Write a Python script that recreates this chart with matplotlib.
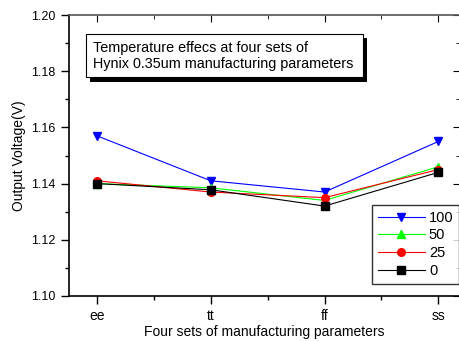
import numpy as np
import matplotlib.pyplot as plt
from matplotlib.patches import Rectangle

plt.rcParams['font.family'] = ['Liberation Sans', 'DejaVu Sans']

# process corners and output voltage per temperature
corners = ['ee', 'tt', 'ff', 'ss']
temps = ['100', '50', '25', '0']
v_100 = [1.157, 1.141, 1.137, 1.155]
v_50 = [1.140, 1.1385, 1.134, 1.146]
v_25 = [1.141, 1.137, 1.135, 1.145]
v_0 = [1.140, 1.1378, 1.132, 1.144]

series = [v_100, v_50, v_25, v_0]
colors = ['#0000ff', '#00ff00', '#ff0000', '#000000']
markers = ['v', '^', 'o', 's']

W, H = 459, 341
fig = plt.figure(figsize=(W / 100, H / 100), dpi=100)
ax = fig.add_axes([69 / W, 1 - 296 / H, 391 / W, 281 / H])

x = np.arange(1, len(corners) + 1)
for vals, c, m, lab in zip(series, colors, markers, temps):
    ax.plot(x, vals, color=c, lw=0.8, marker=m, ms=5.5, mec=c, mfc=c, label=lab)

ax.set_xlim(0.754, 4.19)
ax.set_ylim(1.10, 1.20)
ax.set_xticks(x)
ax.set_xticklabels(corners)
ax.set_xticks([1.5, 2.5, 3.5], minor=True)
ax.set_yticks(np.arange(1.10, 1.201, 0.02))
ax.set_yticklabels(['%.2f' % v for v in np.arange(1.10, 1.201, 0.02)])
ax.set_yticks(np.arange(1.11, 1.20, 0.02), minor=True)
ax.tick_params(axis='both', which='major', direction='out', length=6, width=1, labelsize=9)
ax.tick_params(axis='both', which='minor', direction='out', length=3, width=1)
ax.tick_params(axis='x', labelsize=10, pad=3)
for s in ax.spines.values():
    s.set_linewidth(1.2)
ax.spines['top'].set_color('#555555')

# inward ticks on top and right
top = ax.secondary_xaxis('top')
top.set_xticks(x)
top.set_xticks([1.5, 2.5, 3.5], minor=True)
top.tick_params(which='major', direction='in', length=5, labeltop=False)
top.tick_params(which='minor', direction='in', length=3)
top.spines['top'].set_visible(False)
right = ax.secondary_yaxis('right')
right.set_yticks(np.arange(1.10, 1.201, 0.02))
right.set_yticks(np.arange(1.11, 1.20, 0.02), minor=True)
right.tick_params(which='major', direction='in', length=5, labelright=False)
right.tick_params(which='minor', direction='in', length=3)

ax.set_xlabel('Four sets of manufacturing parameters', fontsize=10, labelpad=2)
ax.set_ylabel('Output Voltage(V)', fontsize=10, labelpad=4)

leg = ax.legend(loc='upper left', bbox_to_anchor=(372 / W, 1 - 205 / H),
                bbox_transform=fig.transFigure, fontsize=10.5, frameon=True,
                fancybox=False, handlelength=3.2, handletextpad=0.3,
                labelspacing=0.25, borderpad=0.4, borderaxespad=0)
leg.get_frame().set_edgecolor('black')
leg.get_frame().set_linewidth(1)

# title box with drop shadow
fig.patches.append(Rectangle((90 / W, 1 - 82 / H), 277 / W, 44 / H,
                             transform=fig.transFigure, facecolor='black',
                             edgecolor='none', zorder=5))
fig.patches.append(Rectangle((86 / W, 1 - 77 / H), 277 / W, 43 / H,
                             transform=fig.transFigure, facecolor='white',
                             edgecolor='black', lw=0.8, zorder=6))
fig.text(93 / W, 1 - 56 / H,
         'Temperature effecs at four sets of\nHynix 0.35um manufacturing parameters',
         fontsize=10.4, va='center', ha='left', linespacing=1.2, zorder=7)

fig.savefig('out.png', dpi=100)
